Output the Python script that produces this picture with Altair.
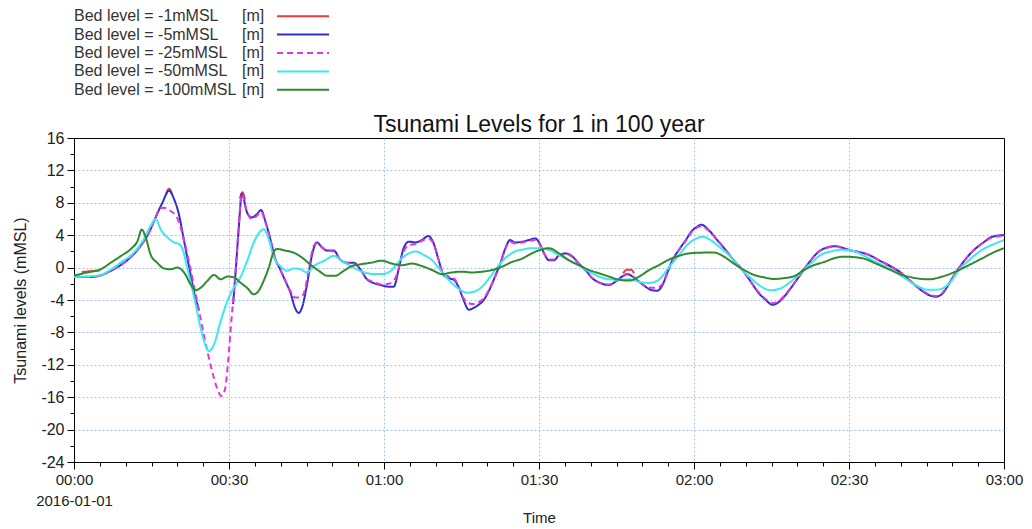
import altair as alt
import pandas as pd

FONT = "Liberation Sans"

SERIES = ["Bed level = -1mMSL", "Bed level = -5mMSL", "Bed level = -25mMSL",
          "Bed level = -50mMSL", "Bed level = -100mMSL"]
UNIT = "[m]"
COLORS = ["#ee3b3b", "#3030c8", "#e036e0", "#3ce8ee", "#2e8b2e"]
DASHES = [[1, 0], [1, 0], [6, 4], [1, 0], [1, 0]]

# (minutes after 2016-01-01 00:00, level mMSL); None = gap (dry)
RED = [(1.5, -0.55), (3, -0.45), (5, -0.35), None,
       (17.8, 9.0), (18.4, 9.75), (19.0, 9.0), None,
       (32.1, 8.5), (32.6, 9.3), (33.1, 8.4), None,
       (106.3, -0.7), (107.0, -0.25), (107.8, -0.25), (108.4, -0.7), None,
       (140.2, -0.9), (141.0, -0.35), (141.8, 0.1), None,
       (157.0, 0.45), (158.6, -0.05), (160.4, -0.75)]

BLUE = [(0, -1.1), (1.5, -1.15), (3.2, -1.15), (5.2, -0.95), (7.1, -0.4), (9, 0.3), (11, 1.3),
        (12.9, 2.7), (14.5, 4.3), (15.8, 6.2), (17.1, 8.0), (18.4, 9.5), (19.4, 8.4), (20.3, 6.6),
        (21.3, 3.3), (22.3, 0.0), (23.2, -2.9), (24.2, -5.3), None,
        (30.8, -4.5), (31.4, 0.5), (31.9, 5.0), (32.5, 9.1), (33.5, 6.8), (34.4, 6.2), (35.4, 6.6),
        (36.2, 7.1), (37, 5.8), (38, 3.5), (39, 1.0), (39.9, -0.2), (40.9, -1.65), (41.9, -3.1),
        (42.8, -5.0), (43.5, -5.6), (44.1, -5.0), (45.1, -2.1), (46.1, 1.65), (47, 3.1), (48, 2.5),
        (49, 2.1), (50.3, 2.1), (51.5, 1.0), (52.8, 0.6), (54.1, 0.6), (55.4, -0.2), (56.7, -1.45),
        (58, -1.9), (59.6, -2.2), (60.9, -2.35), (61.9, -2.35), (62.8, -0.3), (63.8, 2.4),
        (64.8, 3.2), (66.1, 3.1), (67.3, 3.4), (68.6, 3.9), (69.6, 3.0), (70.6, 0.9), (71.5, -0.9),
        (72.5, -1.3), (73.5, -1.5), (74.4, -2.35), (75.4, -4.0), (76.4, -5.2), (77.3, -5.0),
        (78.3, -4.6), (79.3, -4.0), (80.2, -3.0), (81.5, -1.1), (82.5, 0.5), (83.5, 2.4),
        (84.4, 3.4), (85.4, 3.1), (86.7, 3.2), (88, 3.4), (89.3, 3.6), (90.1, 3.0), (91, 1.75),
        (91.9, 0.9), (92.9, 0.9), (93.9, 1.55), (95.2, 1.75), (96.5, 1.35), (97.7, 0.5),
        (99, -0.3), (100.3, -1.3), (101.9, -1.9), (103.5, -2.15), (104.8, -1.75), (106.1, -1.1),
        (107.1, -0.8), (108.1, -1.1), (109.4, -1.75), (110.6, -2.35), (111.9, -2.8),
        (112.9, -2.85), (113.9, -2.15), (114.8, -0.7), (115.8, 0.9), (117.1, 2.2), (118.4, 3.4),
        (119.7, 4.6), (120.5, 5.0), (121.4, 5.3), (122.9, 4.6), (124.5, 3.4), (126.1, 2.2),
        (127.7, 0.9), (129.4, -0.3), (131, -1.75), (132.6, -3.2), (133.9, -4.0), (135.2, -4.6),
        (136.5, -4.2), (137.7, -3.4), (139.4, -1.95), (141, -0.5), (142.6, 0.9), (144.2, 2.0),
        (145.8, 2.5), (147.4, 2.65), (149, 2.4), (150.5, 2.1), (152.5, 1.85), (153.9, 1.55),
        (155.8, 0.9), (157.7, 0.3), (159.7, -0.5), (161.6, -1.5), (163.5, -2.55), (165.5, -3.4),
        (166.8, -3.6), (168.1, -3.2), (169.4, -1.95), (170.6, -0.7), (171.9, 0.5), (173.9, 2.0),
        (175.8, 3.0), (177.7, 3.8), (179.7, 4.0), (180, 4.0)]

MAGENTA = [(0, -1.1), (3.2, -1.15), (5.2, -0.95), (7.1, -0.4), (9, 0.3), (11, 1.3), (12.9, 2.7),
           (14.5, 4.3), (15.8, 6.2), (16.6, 7.3), (17.4, 7.4), (18.4, 7.1), (20, 6.1), (21.3, 3.4),
           (22.6, -0.3), (23.9, -4.4), (25.2, -8.5), (26.5, -12.2), (27.7, -14.9), (28.5, -15.85),
           (29.2, -15.1), (29.8, -11.8), (30.4, -7.0), (31.1, -1.8), (31.7, 3.5), (32.5, 9.1),
           (33.5, 6.8), (34.4, 6.0), (35.4, 6.4), (36.2, 6.9), (37, 5.7), (38, 3.5), (39, 1.0),
           (39.9, -0.2), (40.9, -1.6), (41.9, -2.9), (42.8, -3.7), (43.5, -3.7), (44.4, -3.3),
           (45.4, -0.4), (46.4, 2.7), (47, 3.0), (48, 2.5), (49, 2.1), (50.3, 2.0), (51.5, 1.0),
           (52.8, 0.6), (54.1, 0.5), (55.4, -0.2), (56.7, -1.4), (58, -1.8), (59.6, -2.1),
           (60.9, -2.0), (62.2, -1.3), (63.8, 2.0), (64.8, 2.8), (66.1, 2.9), (67.3, 3.3),
           (68.6, 3.6), (69.6, 2.9), (70.6, 0.9), (71.5, -0.8), (72.5, -1.1), (73.5, -1.3),
           (74.4, -2.3), (75.4, -3.8), (76.4, -4.4), (77.3, -4.5), (78.3, -4.3), (79.3, -3.8),
           (80.2, -2.9), (81.5, -1.1), (82.5, 0.5), (83.5, 2.3), (84.4, 3.2), (85.4, 3.0),
           (86.7, 3.1), (88, 3.3), (89.3, 3.4), (90.1, 2.9), (91, 1.7), (91.9, 1.0), (92.9, 1.0),
           (93.9, 1.5), (95.2, 1.7), (96.5, 1.3), (97.7, 0.5), (99, -0.3), (100.3, -1.3),
           (101.9, -1.9), (103.5, -2.1), (104.8, -1.7), (106.1, -1.1), (107.1, -0.85),
           (108.1, -1.1), (109.4, -1.7), (110.6, -2.3), (111.9, -2.5), (112.9, -2.45),
           (113.9, -2.0), (114.8, -0.7), (115.8, 0.9), (117.1, 2.2), (118.4, 3.3), (119.7, 4.5),
           (120.5, 4.9), (121.4, 5.1), (122.9, 4.5), (124.5, 3.4), (126.1, 2.2), (127.7, 0.9),
           (129.4, -0.3), (131, -1.75), (132.6, -3.1), (133.9, -3.9), (135.2, -4.4),
           (136.5, -4.1), (137.7, -3.3), (139.4, -1.9), (141, -0.5), (142.6, 0.9), (144.2, 2.0),
           (145.8, 2.45), (147.4, 2.6), (149, 2.35), (150.5, 2.1), (152.5, 1.85), (153.9, 1.55),
           (155.8, 0.9), (157.7, 0.3), (159.7, -0.5), (161.6, -1.5), (163.5, -2.5), (165.5, -3.3),
           (166.8, -3.5), (168.1, -3.1), (169.4, -1.9), (170.6, -0.7), (171.9, 0.5), (173.9, 2.0),
           (175.8, 3.0), (177.7, 3.7), (179.7, 3.9), (180, 3.9)]

CYAN = [(0, -1.15), (2.5, -1.1), (5.2, -0.9), (7, -0.3), (9, 0.6), (11.6, 1.85), (13.5, 3.5),
        (14.8, 5.1), (15.8, 6.0), (16.8, 4.7), (18.1, 3.7), (19.4, 3.1), (20.3, 2.9), (21, 2.3),
        (21.9, 0.0), (23.2, -3.5), (24.5, -7.4), (25.5, -9.7), (26.1, -10.3), (27.1, -9.5),
        (28.4, -6.6), (29.7, -4.1), (30.9, -2.5), (32.2, -1.2), (33.5, 0.8), (34.8, 3.1),
        (36.1, 4.5), (36.7, 4.75), (37.7, 3.5), (38.6, 1.45), (39.9, 0.2), (41.2, -0.4),
        (42.5, -0.1), (43.8, -0.2), (45.1, -0.6), (46.4, 0.2), (48.3, 0.8), (50.3, 1.45),
        (51.9, 0.8), (53.5, 0.2), (55.4, -0.4), (58, -0.8), (59.6, -0.8), (61.5, -0.3),
        (63.1, 0.9), (64.8, 1.75), (66.1, 2.0), (67.7, 1.55), (69.3, 0.9), (70.9, -0.3),
        (72.5, -1.5), (74.4, -2.6), (76.1, -3.1), (77.3, -3.0), (79, -2.35), (80.6, -1.1),
        (82.2, 0.3), (83.8, 1.35), (85.4, 2.0), (87, 2.25), (88.6, 2.4), (90, 2.4), (91.9, 2.2),
        (93.9, 1.55), (95.8, 0.9), (97.7, 0.3), (99.7, -0.5), (101.6, -1.1), (103.5, -1.45),
        (105.5, -1.5), (107.4, -1.45), (109.4, -1.75), (111.3, -1.9), (113.2, -1.5),
        (115.2, 0.1), (117.1, 1.55), (119, 3.0), (120.5, 3.6), (121.8, 3.8), (123.2, 3.4),
        (125.2, 2.4), (127.1, 1.35), (129, -0.1), (131, -1.3), (132.9, -2.3), (134.8, -2.8),
        (136.8, -2.55), (138.7, -1.75), (140.6, -0.7), (142.6, 0.5), (144.5, 1.55), (146.5, 2.0),
        (148.4, 2.2), (150.5, 2.1), (152.6, 1.55), (155.2, 0.7), (157.7, -0.1), (160.3, -1.1),
        (162.9, -2.15), (165.5, -2.75), (167.4, -2.7), (169.4, -1.95), (171.3, -0.3),
        (173.2, 0.9), (175.8, 2.2), (178.4, 3.0), (180, 3.4)]

GREEN = [(0, -1.0), (2.6, -0.6), (5.2, -0.2), (7.1, 0.6), (9, 1.4), (11, 2.3), (12.3, 3.3),
         (13.1, 4.7), (13.9, 3.7), (14.8, 1.65), (16.1, 0.6), (17.4, -0.1), (18.7, -0.2),
         (20, 0.0), (21.3, -0.6), (22.6, -2.1), (23.5, -2.8), (24.5, -2.5), (25.8, -1.65),
         (27.1, -0.9), (28.4, -1.45), (29.7, -1.1), (30.9, -1.2), (32.2, -1.85), (33.5, -2.5),
         (34.8, -3.3), (35.7, -2.9), (36.7, -1.65), (37.7, 0.0), (38.6, 1.85), (39.3, 2.3),
         (40.9, 2.1), (42.5, 1.85), (44.1, 1.25), (45.7, 0.4), (47.4, -0.4), (49, -1.0),
         (50.6, -1.0), (52.2, -0.4), (53.8, 0.2), (55.4, 0.4), (57.4, 0.6), (59.6, 0.85),
         (61.5, 0.5), (63.5, 0.3), (65.4, 0.5), (67.3, 0.2), (69.3, -0.3), (71.2, -0.8),
         (73.1, -0.6), (75.1, -0.5), (77, -0.6), (79, -0.5), (80.9, -0.3), (82.8, 0.1),
         (84.8, 0.7), (86.7, 1.1), (88.6, 1.75), (90.3, 2.2), (91.9, 2.4), (93.9, 1.75),
         (95.8, 0.9), (97.7, 0.3), (99.7, -0.3), (101.6, -0.7), (103.5, -1.1), (105.5, -1.5),
         (107.4, -1.6), (109.4, -1.1), (111.3, -0.3), (113.2, 0.3), (115.2, 1.0), (117.1, 1.45),
         (119, 1.75), (121.9, 1.85), (123.9, 1.85), (125.8, 1.35), (127.7, 0.5), (129.7, -0.3),
         (131.6, -0.9), (133.5, -1.2), (135.5, -1.4), (137.4, -1.3), (139.4, -1.05),
         (141.3, -0.3), (143.2, 0.3), (145.2, 0.7), (147.1, 1.15), (149, 1.35), (152.6, 1.15),
         (155.2, 0.5), (157.7, -0.2), (160.3, -0.9), (162.9, -1.3), (165.5, -1.45),
         (168.1, -1.1), (170.6, -0.5), (173.2, 0.3), (175.8, 1.15), (178.4, 2.0), (180, 2.4)]

POINTS = [RED, BLUE, MAGENTA, CYAN, GREEN]


def frame(i):
    rows, seg = [], 0
    for p in POINTS[i]:
        if p is None:
            seg += 1
            continue
        rows.append({"t": p[0], "v": p[1], "series": SERIES[i], "key": f"{i}-{seg}"})
    return pd.DataFrame(rows)


color_scale = alt.Scale(domain=SERIES, range=COLORS)
dash_scale = alt.Scale(domain=SERIES, range=DASHES)

x_axis = alt.Axis(
    values=list(range(0, 181, 5)),
    labelExpr="datum.value % 30 != 0 ? '' : (datum.value == 0 ? ['00:00', '2016-01-01'] : "
              "format(floor(datum.value / 60), '02d') + ':' + format(datum.value % 60, '02d'))",
    labelOverlap=False, labelBound=False, labelFlush=False,
    labelFont=FONT, labelFontSize=15, labelColor="#222", labelPadding=3, labelLineHeight=21,
    tickColor="#000",
    tickSize={"condition": {"test": "datum.value % 30 == 0", "value": 7}, "value": 4},
    grid=True, gridColor="#a4c2ea", gridDash=[2, 2], gridWidth=1,
    gridOpacity={"condition": {"test": "datum.value % 30 == 0 && datum.value > 0 && datum.value < 180",
                               "value": 1}, "value": 0},
    domainColor="#000",
    title="Time", titleFont=FONT, titleFontSize=15, titleFontWeight="normal",
    titleColor="#222", titlePadding=2,
)

y_axis = alt.Axis(
    values=list(range(-24, 17, 2)),
    labelExpr="datum.value % 4 == 0 ? '' + datum.value : ''",
    labelOverlap=False, labelBound=False, labelFlush=False,
    labelFont=FONT, labelFontSize=16, labelColor="#222", labelPadding=3,
    tickColor="#000",
    tickSize={"condition": {"test": "datum.value % 4 == 0", "value": 7}, "value": 4},
    grid=True, gridColor="#a4c2ea", gridDash=[2, 2], gridWidth=1,
    gridOpacity={"condition": {"test": "datum.value % 4 == 0 && datum.value > -24 && datum.value < 16",
                               "value": 1}, "value": 0},
    domainColor="#000",
    title="Tsunami levels (mMSL)", titleFont=FONT, titleFontSize=16, titleFontWeight="normal",
    titleColor="#222", titlePadding=12,
)

layers = []
for i in range(len(SERIES)):
    layers.append(
        alt.Chart(frame(i)).mark_line(strokeWidth=2, interpolate="monotone", clip=True).encode(
            x=alt.X("t:Q", scale=alt.Scale(domain=[0, 180], nice=False, zero=False), axis=x_axis),
            y=alt.Y("v:Q", scale=alt.Scale(domain=[-24, 16], nice=False, zero=False), axis=y_axis),
            color=alt.Color("series:N", scale=color_scale, legend=None),
            strokeDash=alt.StrokeDash("series:N", scale=dash_scale, legend=None),
            detail="key:N",
        )
    )

main = alt.layer(*layers).properties(
    width=930, height=324,
    view=alt.ViewBackground(stroke="#000", strokeWidth=1),
    title=alt.Title("Tsunami Levels for 1 in 100 year", font=FONT, fontSize=23,
                    fontWeight="normal", color="#111", anchor="middle", offset=-7),
)

leg_df = pd.DataFrame({"series": SERIES, "unit": [UNIT] * len(SERIES)})
leg_y = alt.Y("series:N", axis=None,
              scale=alt.Scale(type="point", domain=SERIES, padding=0.5))
leg_base = alt.Chart(leg_df)
leg_text = leg_base.mark_text(align="left", baseline="middle", font=FONT, fontSize=16,
                              color="#333").encode(y=leg_y, x=alt.value(0), text="series:N")
leg_unit = leg_base.mark_text(align="left", baseline="middle", font=FONT, fontSize=16,
                              color="#333").encode(y=leg_y, x=alt.value(168), text="unit:N")
leg_line = leg_base.mark_rule(strokeWidth=2).encode(
    y=leg_y, x=alt.value(203), x2=alt.value(255),
    color=alt.Color("series:N", scale=color_scale, legend=None),
    strokeDash=alt.StrokeDash("series:N", scale=dash_scale, legend=None),
)
legend = alt.layer(leg_line, leg_text, leg_unit).properties(
    width=330, height=92, view=alt.ViewBackground(strokeOpacity=0)
)

chart = alt.vconcat(legend, main, spacing=14).resolve_scale(
    color="independent", strokeDash="independent"
).configure(
    padding={"left": 12, "top": 7, "right": 5, "bottom": 0},
    background="white",
)

chart.save("out.html", embed_options={"renderer": "svg", "actions": False})
